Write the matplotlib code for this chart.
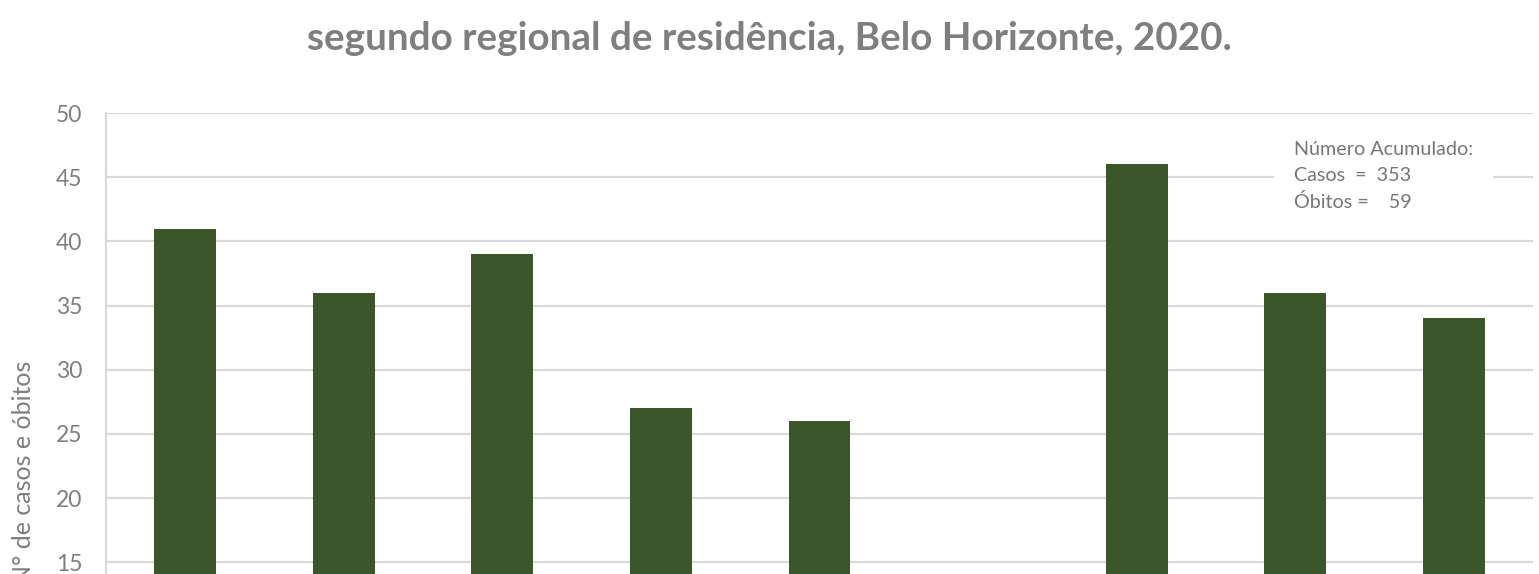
import matplotlib
matplotlib.use("Agg")
import matplotlib.pyplot as plt
import numpy as np

categories = ["Barreiro", "Centro-Sul", "Leste", "Nordeste", "Noroeste",
              "Norte", "Oeste", "Pampulha", "Venda Nova"]
casos = [41, 36, 39, 27, 26, 10, 46, 36, 34]
yticks = [15, 20, 25, 30, 35, 40, 45, 50]
title_line2 = "segundo regional de residência, Belo Horizonte, 2020."
note_lines = ["Número Acumulado:", "Casos  =  353", "Óbitos =    59"]
ylabel = "N° de casos e óbitos"

W, H = 1539, 574
fig = plt.figure(figsize=(W / 100, H / 100), dpi=100)
fig.patch.set_facecolor("white")

left, right = 106, 1533
top, bottom = 113, 755
ax = fig.add_axes([left / W, (H - bottom) / H, (right - left) / W, (bottom - top) / H])

grid_c = "#d9d9d9"
text_c = "#7f7f7f"
bar_c = "#3b5729"

x = np.arange(len(categories))
ax.bar(x, casos, width=0.39, color=bar_c, zorder=3)
ax.set_xlim(-0.5, len(categories) - 0.5)
ax.set_ylim(0, 50)
ax.set_yticks(yticks)
ax.set_yticklabels([str(v) for v in yticks], fontsize=16.5, color=text_c, family="Lato")
ax.set_xticks(x)
ax.set_xticklabels([])
ax.tick_params(axis="y", length=0, pad=17)
ax.tick_params(axis="x", length=0)
ax.grid(axis="y", color=grid_c, linewidth=1.6, zorder=0)
for s in ["top", "right", "bottom"]:
    ax.spines[s].set_visible(False)
ax.spines["left"].set_color(grid_c)
ax.spines["left"].set_linewidth(1.6)

fig.text(24 / W, 1 - 472 / H, ylabel, rotation=90, ha="center", va="center",
         fontsize=18, color=text_c, family="Lato")

fig.text(769 / W, 1 - 38 / H, title_line2, ha="center", va="center",
         fontsize=27.8, fontweight="bold", color=text_c, family="Lato")

# annotation box (white background hides gridline)
ax.text((1294 - left) / (right - left), (bottom - 141) / (bottom - top), "\n".join(note_lines),
        transform=ax.transAxes,
        ha="left", va="top", fontsize=14.2, color="#767676", family="Lato",
        linespacing=1.62,
        bbox=dict(boxstyle="square,pad=1.0", facecolor="white", edgecolor="none"),
        zorder=5)

fig.savefig("out.png", dpi=100, facecolor="white")
